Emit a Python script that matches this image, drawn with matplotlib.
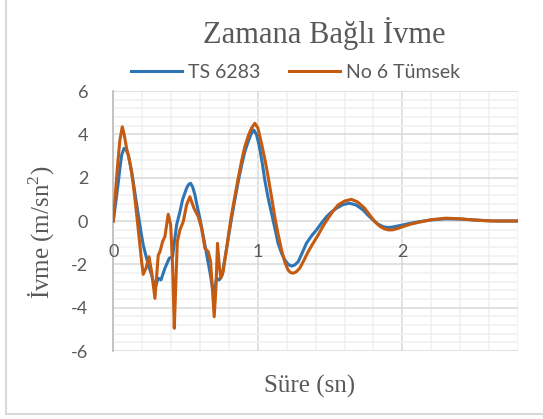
import matplotlib
matplotlib.use('Agg')
import matplotlib.pyplot as plt
from matplotlib.lines import Line2D
from matplotlib.ticker import MultipleLocator

plt.rcParams['mathtext.fontset'] = 'custom'
plt.rcParams['mathtext.rm'] = 'Liberation Serif'

# Zaman (sn) ve ivme (m/sn2) degerleri
t_ts = [0.0, 0.018, 0.035, 0.047, 0.058, 0.074, 0.088, 0.104, 0.120, 0.138, 0.155,
        0.173, 0.190, 0.207, 0.242, 0.265, 0.288, 0.311, 0.330, 0.357, 0.387, 0.410,
        0.438, 0.461, 0.480, 0.507, 0.520, 0.535, 0.550, 0.565, 0.580, 0.599, 0.634,
        0.668, 0.696, 0.714, 0.733, 0.753, 0.784, 0.800, 0.818, 0.840, 0.864, 0.887,
        0.910, 0.935, 0.956, 0.972, 0.990, 1.009, 1.030, 1.048, 1.070, 1.095, 1.120,
        1.140, 1.165, 1.187, 1.210, 1.233, 1.255, 1.279, 1.305, 1.336, 1.370, 1.406,
        1.440, 1.475, 1.510, 1.544, 1.590, 1.636, 1.680, 1.728, 1.760, 1.797, 1.830,
        1.866, 1.895, 1.924, 1.960, 2.004, 2.060, 2.120, 2.200, 2.300, 2.400, 2.490,
        2.630, 2.810]
a_ts = [0.0, 0.90, 1.81, 2.50, 3.05, 3.35, 3.30, 3.05, 2.50, 1.81, 1.05,
        0.28, -0.45, -1.11, -2.03, -2.49, -3.10, -2.64, -2.72, -2.18, -1.72, -1.65,
        -0.18, 0.43, 1.00, 1.51, 1.68, 1.74, 1.55, 1.20, 0.70, 0.12, -1.11,
        -2.34, -3.49, -2.64, -2.72, -2.49, -1.26, -0.60, 0.12, 0.95, 1.81, 2.55,
        3.20, 3.70, 4.05, 4.20, 4.00, 3.50, 2.70, 1.90, 1.10, 0.35, -0.40,
        -1.03, -1.50, -1.80, -2.00, -2.08, -2.03, -1.88, -1.50, -1.03, -0.70, -0.41,
        -0.10, 0.20, 0.42, 0.59, 0.76, 0.82, 0.74, 0.51, 0.28, 0.05, -0.14,
        -0.26, -0.30, -0.29, -0.24, -0.18, -0.10, -0.03, 0.05, 0.10, 0.09, 0.05,
        0.0, 0.0]

t_no6 = [0.0, 0.015, 0.030, 0.045, 0.062, 0.075, 0.092, 0.110, 0.127, 0.145, 0.162,
         0.180, 0.196, 0.207, 0.226, 0.247, 0.265, 0.288, 0.311, 0.323, 0.341, 0.357,
         0.369, 0.380, 0.397, 0.410, 0.422, 0.433, 0.443, 0.461, 0.484, 0.507, 0.530,
         0.558, 0.588, 0.611, 0.634, 0.657, 0.673, 0.687, 0.698, 0.710, 0.721, 0.733,
         0.744, 0.760, 0.784, 0.800, 0.818, 0.840, 0.864, 0.887, 0.910, 0.935, 0.956,
         0.979, 1.000, 1.025, 1.050, 1.071, 1.095, 1.117, 1.140, 1.164, 1.187, 1.209,
         1.226, 1.244, 1.265, 1.290, 1.320, 1.348, 1.380, 1.417, 1.450, 1.486, 1.520,
         1.555, 1.600, 1.647, 1.690, 1.739, 1.775, 1.809, 1.845, 1.878, 1.905, 1.931,
         1.965, 2.004, 2.060, 2.120, 2.200, 2.300, 2.400, 2.490, 2.580, 2.670, 2.810]
a_no6 = [0.0, 1.30, 2.60, 3.70, 4.35, 4.00, 3.35, 2.85, 2.27, 1.30, 0.28,
         -0.85, -1.88, -2.46, -2.18, -1.65, -2.34, -3.57, -1.57, -1.42, -0.95, -0.72,
         -0.18, 0.31, -0.18, -2.03, -4.95, -2.80, -0.95, -0.41, -0.03, 0.74, 1.12,
         0.59, 0.20, -0.34, -1.26, -1.42, -1.88, -3.26, -4.42, -3.10, -1.03, -2.03,
         -2.64, -2.34, -1.26, -0.50, 0.28, 1.10, 1.97, 2.75, 3.43, 3.95, 4.28,
         4.51, 4.30, 3.59, 2.80, 2.05, 1.10, 0.20, -0.60, -1.34, -1.90, -2.26,
         -2.38, -2.41, -2.35, -2.18, -1.80, -1.42, -1.05, -0.65, -0.25, 0.12, 0.45,
         0.74, 0.92, 1.00, 0.88, 0.59, 0.27, -0.03, -0.25, -0.37, -0.41, -0.41,
         -0.35, -0.26, -0.14, -0.05, 0.06, 0.13, 0.10, 0.05, 0.01, 0.0, 0.0]

x_ticks = [0, 1, 2]
y_ticks = [-6, -4, -2, 0, 2, 4, 6]

W, H = 543, 419
blue = '#2E75B6'
orange = '#C55A11'
gray_txt = '#595959'

fig = plt.figure(figsize=(W / 100, H / 100), dpi=100)
fig.patch.set_facecolor('white')

# grafik alani (piksel -> oran)
x0, x1 = 113.3, 518.0
y_top, y_bot = 91.0, 351.0
ax = fig.add_axes([x0 / W, 1 - y_bot / H, (x1 - x0) / W, (y_bot - y_top) / H])

ax.plot(t_ts, a_ts, color=blue, linewidth=2.2, solid_joinstyle='round', zorder=3)
ax.plot(t_no6, a_no6, color=orange, linewidth=2.2, solid_joinstyle='round', zorder=4)

ax.set_xlim(0, 2.8)
ax.set_ylim(-6, 6)
ax.xaxis.set_major_locator(MultipleLocator(1))
ax.xaxis.set_minor_locator(MultipleLocator(0.2))
ax.yaxis.set_major_locator(MultipleLocator(2))
ax.yaxis.set_minor_locator(MultipleLocator(0.4))
ax.grid(which='major', color='#D9D9D9', linewidth=1.1, zorder=1)
ax.grid(which='minor', color='#F0F0F0', linewidth=1.1, zorder=0)
ax.set_axisbelow(True)

for s in ['top', 'right', 'bottom']:
    ax.spines[s].set_visible(False)
ax.spines['left'].set_color('#BFBFBF')
ax.spines['left'].set_linewidth(1.3)

ax.tick_params(which='both', length=0)
ax.set_xticklabels([])
ax.set_yticks(y_ticks)
ax.set_yticklabels([str(v) for v in y_ticks], fontsize=13, color=gray_txt, family='Lato')
ax.tick_params(axis='y', pad=18)

# x etiketleri yatay eksenin (y=0) hemen altinda
for xv in x_ticks:
    ax.annotate(str(xv), xy=(xv, 0), xytext=(0, -22.5), textcoords='offset points',
                ha='center', va='center', fontsize=13, color=gray_txt, family='Lato')

fig.text(324.5 / W, 1 - 43.3 / H, 'Zamana Bağlı İvme', ha='center', va='baseline',
         fontsize=22, color=gray_txt, family='Liberation Serif')
fig.text(310 / W, 1 - 386 / H, 'Süre (sn)', ha='center', va='center',
         fontsize=18, color=gray_txt, family='Liberation Serif')
fig.text(42 / W, 1 - 232 / H, 'İvme (m/sn$^2$)', ha='center', va='center', rotation=90,
         fontsize=18, color=gray_txt, family='Liberation Serif')

handles = [Line2D([], [], color=blue, linewidth=2.2),
           Line2D([], [], color=orange, linewidth=2.2)]
fig.legend(handles, ['TS 6283', 'No 6 Tümsek'], loc='center', ncol=2,
           bbox_to_anchor=(295.5 / W, 1 - 72.7 / H), frameon=False,
           prop={'family': 'Lato', 'size': 14}, labelcolor=gray_txt,
           handlelength=2.6, handletextpad=0.3, columnspacing=1.5)

# cerceve
fig.add_artist(Line2D([6 / W, 6 / W], [1 - 414 / H, 1.0], color='#D9D9D9', linewidth=1.5))
fig.add_artist(Line2D([6 / W, 1.0], [1 - 414 / H, 1 - 414 / H], color='#D9D9D9', linewidth=1.5))

fig.savefig('out.png', dpi=100, facecolor='white')
